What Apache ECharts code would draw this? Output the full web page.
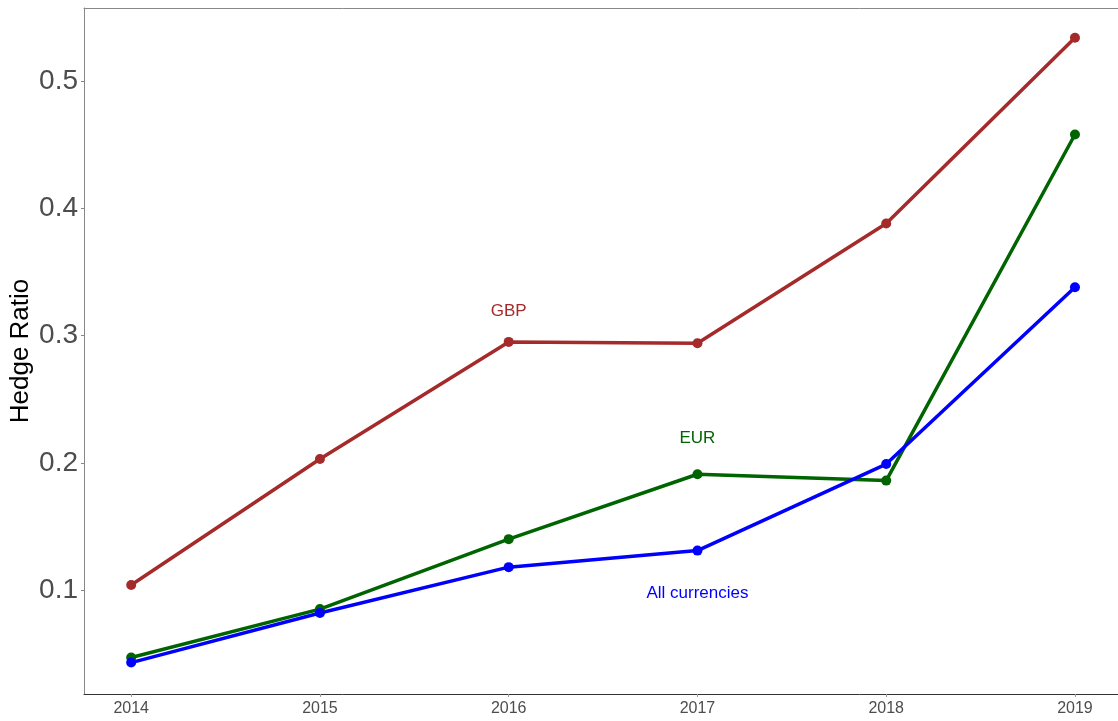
<!DOCTYPE html>
<html lang="en">
<head>
	<meta charset="UTF-8">
	<title>Hedge Ratio</title>
	<style>
		html, body { margin: 0; padding: 0; background: #fff; }
	</style>
</head>
<body>
	<div id='main' style="width:1118px;height:721px;"></div>
</body>
<script type="text/javascript" src="https://cdn.jsdelivr.net/npm/echarts@6/dist/echarts.min.js"></script>
<script type="text/javascript">
var years = [2014, 2015, 2016, 2017, 2018, 2019];
var gbp = [0.104, 0.203, 0.295, 0.294, 0.388, 0.534];
var eur = [0.047, 0.085, 0.140, 0.191, 0.186, 0.458];
var allCur = [0.043, 0.082, 0.118, 0.131, 0.199, 0.338];
var yTicks = [0.1, 0.2, 0.3, 0.4, 0.5];

// text labels placed in data coordinates: [x, y, text, colour]
var tags = [
    [2016, 0.319, 'GBP', '#A52A2A'],
    [2017, 0.219, 'EUR', '#006400'],
    [2017, 0.0975, 'All currencies', '#0000FF']
];

function pairs(vals) {
    var list = [];
    for (var i = 0; i < years.length; i++) {
        list.push([years[i], vals[i]]);
    }
    return list;
}

function lineSeries(name, vals, color) {
    return {
        name: name,
        type: 'line',
        data: pairs(vals),
        symbol: 'circle',
        symbolSize: 10,
        lineStyle: { color: color, width: 3.5 },
        itemStyle: { color: color },
        animation: false
    };
}

var option = {
    backgroundColor: '#fff',
    grid: { left: 84, right: 0, top: 8, bottom: 27, containLabel: false, outerBoundsMode: 'none' },
    xAxis: [
        {
            type: 'value',
            min: 2013.75,
            max: 2019.228,
            splitLine: { show: false },
            axisLine: { lineStyle: { color: '#333', width: 1 } },
            axisTick: { length: 3, lineStyle: { color: '#999' }, customValues: years },
            axisLabel: {
                color: '#4d4d4d', fontSize: 16, margin: 7,
                fontFamily: 'Liberation Sans, Arial, sans-serif',
                customValues: years,
                formatter: function (v) { return String(v); }
            }
        },
        {
            type: 'value',
            position: 'top',
            min: 2013.75,
            max: 2019.228,
            axisLine: { show: true, lineStyle: { color: '#888', width: 1 } },
            axisTick: { show: false },
            axisLabel: { show: false },
            splitLine: { show: false }
        }
    ],
    yAxis: {
        type: 'value',
        min: 0.0183,
        max: 0.5574,
        name: 'Hedge Ratio',
        nameLocation: 'middle',
        nameGap: 50,
        nameMoveOverlap: false,
        nameTextStyle: { color: '#000', fontSize: 26, fontFamily: 'Liberation Sans, Arial, sans-serif' },
        splitLine: { show: false },
        axisLine: { show: true, lineStyle: { color: '#888', width: 1 } },
        axisTick: { show: true, length: 3, lineStyle: { color: '#888' }, customValues: yTicks },
        axisLabel: {
            color: '#4d4d4d', fontSize: 28, margin: 6,
            fontFamily: 'Liberation Sans, Arial, sans-serif',
            customValues: yTicks,
            formatter: function (v) { return v.toFixed(1); }
        }
    },
    series: [
        lineSeries('GBP', gbp, '#A52A2A'),
        lineSeries('EUR', eur, '#006400'),
        lineSeries('All currencies', allCur, '#0000FF'),
        {
            type: 'scatter',
            symbolSize: 0,
            animation: false,
            silent: true,
            itemStyle: { opacity: 1 },
            data: tags.map(function (t) {
                return {
                    value: [t[0], t[1]],
                    label: {
                        show: true, position: 'inside', formatter: t[2],
                        color: t[3], fontSize: 17, opacity: 1,
                        fontFamily: 'Liberation Sans, Arial, sans-serif'
                    }
                };
            })
        }
    ]
};

var myChart = echarts.init(document.getElementById('main'));
myChart.setOption(option);
</script>
</html>
